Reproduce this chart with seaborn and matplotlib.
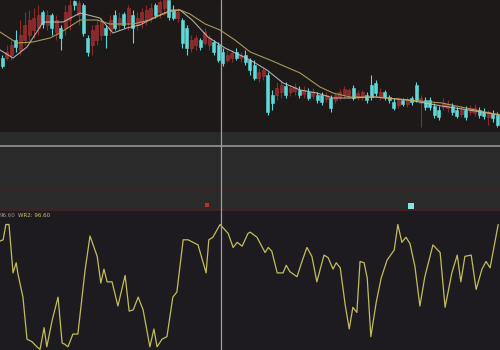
import matplotlib
matplotlib.use("Agg")
import matplotlib.pyplot as plt
import seaborn as sns
import pandas as pd
import numpy as np
from matplotlib.lines import Line2D

# ---------------- data ----------------
opens = [9.2, 9.2, 9.5, 11.0, 10.0, 11.0, 11.5, 12.0, 12.2, 13.8,
         12.5, 13.5, 11.8, 12.2, 12.2, 13.0, 14.9, 13.5, 14.5, 11.2,
         10.5, 11.0, 11.5, 12.2, 12.0, 13.5, 12.5, 13.6, 12.8, 13.5,
         12.5, 12.8, 13.0, 13.2, 14.5, 13.8, 14.2, 15.0, 14.0, 13.2,
         13.0, 12.2, 10.2, 10.5, 11.0, 10.7, 10.5, 10.8, 10.5, 9.8,
         9.0, 9.2, 9.8, 9.2, 9.5, 9.0, 8.5, 7.2, 7.4, 7.5,
         5.5, 5.5, 5.8, 6.4, 5.8, 5.9, 6.0, 5.6, 5.8, 5.4,
         5.5, 5.5, 5.1, 5.2, 5.0, 5.3, 5.6, 5.5, 6.2, 5.3,
         5.4, 5.5, 6.5, 6.7, 5.3, 5.8, 5.3, 4.8, 4.5, 5.0,
         4.6, 5.2, 6.5, 4.7, 5.0, 5.0, 4.4, 4.0, 4.3, 4.2,
         4.4, 4.0, 3.6, 4.0, 3.8, 3.7, 4.0, 3.8, 3.3, 3.6, 3.5]
closes = [8.4, 9.8, 10.5, 10.3, 11.5, 12.5, 13.0, 13.2, 13.5, 12.6,
          13.5, 12.2, 13.0, 11.2, 13.8, 14.5, 14.5, 14.7, 11.7, 9.8,
          12.0, 12.5, 12.8, 11.5, 13.0, 12.2, 13.2, 12.5, 14.2, 12.2,
          13.2, 13.8, 14.0, 14.2, 13.5, 14.8, 15.0, 13.3, 13.2, 13.8,
          10.7, 10.2, 11.0, 11.2, 10.3, 11.8, 11.2, 9.8, 9.0, 8.7,
          9.5, 9.7, 9.2, 9.5, 8.8, 8.0, 7.2, 7.8, 8.0, 3.8,
          4.7, 6.2, 6.5, 5.5, 6.2, 6.3, 5.5, 6.0, 5.2, 5.8,
          5.0, 4.8, 5.5, 4.2, 5.5, 5.8, 6.1, 6.0, 5.2, 5.7,
          5.8, 5.0, 5.3, 5.7, 5.8, 5.3, 5.0, 4.2, 5.0, 4.6,
          5.0, 4.8, 5.0, 5.2, 4.3, 4.3, 3.5, 3.3, 4.7, 4.6,
          3.8, 3.4, 4.0, 3.3, 4.2, 4.2, 3.5, 3.4, 3.8, 3.2, 2.5]
highs = [9.5, 10.5, 11.0, 12.0, 13.0, 13.8, 14.0, 14.2, 14.5, 14.0,
         14.0, 13.7, 13.5, 12.5, 14.5, 15.0, 15.0, 15.0, 14.7, 11.5,
         12.5, 13.0, 13.2, 12.5, 13.5, 14.0, 13.8, 13.8, 14.5, 14.0,
         13.8, 14.2, 14.5, 14.7, 14.7, 15.0, 15.0, 15.0, 14.5, 14.2,
         13.2, 12.5, 11.5, 11.5, 11.2, 12.2, 11.5, 11.0, 10.8, 10.2,
         10.0, 10.0, 10.2, 9.8, 10.0, 9.2, 9.0, 8.2, 8.2, 7.8,
         6.0, 6.8, 7.0, 6.8, 6.5, 6.7, 6.4, 6.4, 6.2, 6.2,
         5.8, 5.8, 5.8, 5.5, 5.7, 6.1, 6.4, 6.2, 6.5, 6.0,
         6.0, 5.8, 7.5, 7.0, 6.2, 6.0, 5.5, 5.2, 5.3, 5.2,
         5.3, 5.4, 6.8, 5.5, 5.3, 5.3, 4.7, 4.4, 5.2, 5.0,
         4.7, 4.3, 4.4, 4.4, 4.5, 4.6, 4.3, 4.2, 4.0, 4.0, 3.8]
lows = [8.2, 9.0, 9.0, 9.8, 9.5, 10.5, 11.0, 11.2, 11.5, 12.2,
        12.0, 11.5, 11.0, 10.0, 11.5, 12.0, 14.0, 12.5, 11.4, 9.4,
        9.5, 10.5, 11.0, 10.2, 11.5, 12.0, 12.0, 12.2, 12.0, 10.7,
        12.0, 12.2, 12.5, 12.8, 13.2, 13.2, 13.5, 13.0, 13.0, 12.8,
        10.2, 9.5, 9.8, 10.0, 10.0, 10.5, 10.0, 9.5, 8.8, 8.4,
        8.8, 8.8, 9.0, 8.8, 8.5, 7.5, 7.0, 6.8, 7.0, 3.5,
        4.0, 5.0, 5.2, 5.2, 5.4, 5.5, 5.2, 5.2, 5.0, 5.1,
        4.7, 4.5, 4.8, 3.8, 4.7, 5.0, 5.2, 5.2, 5.0, 5.0,
        5.0, 4.7, 5.0, 5.4, 5.0, 5.0, 4.7, 4.0, 4.2, 4.4,
        4.3, 4.5, 4.8, 2.3, 4.0, 4.0, 3.2, 3.0, 4.0, 3.8,
        3.5, 3.2, 3.3, 3.0, 3.5, 3.4, 3.2, 3.1, 2.5, 2.8, 2.3]

ma_fast_day = [-0.5, 2.4, 5.5, 9.1, 13.5, 17.3, 21.7, 24.6, 27.7, 30.6,
               34.4, 37.7, 39.5, 42.2, 45.7, 49.5, 55.1, 58.8, 62.4, 66.2,
               69.9, 73.5, 77.3, 82.8, 90.2, 97.7, 105.1, 110.6]
ma_fast_val = [10.0, 9.2, 10.3, 12.8, 12.8, 13.7, 13.2, 11.7, 12.2, 12.5,
               13.4, 14.0, 14.0, 13.0, 11.3, 10.2, 9.0, 8.0, 6.7, 6.0,
               5.7, 5.2, 5.2, 5.3, 5.0, 4.4, 3.9, 3.5]
ma_slow_day = [-0.5, 3.3, 6.8, 10.6, 12.8, 17.3, 21.1, 23.9, 29.1, 32.8,
               36.8, 39.5, 41.7, 45.1, 48.4, 51.7, 55.1, 59.5, 66.2, 70.6,
               73.5, 77.3, 82.8, 90.2, 97.7, 105.1, 110.6]
ma_slow_val = [11.8, 10.7, 10.8, 11.2, 11.7, 13.0, 13.0, 12.6, 12.6, 13.0,
               13.8, 14.0, 13.6, 12.6, 12.0, 11.0, 9.8, 9.0, 7.7, 6.3,
               5.7, 5.3, 5.3, 5.0, 4.7, 4.0, 3.5]

wr_day = [-0.5, 0.2, 0.8, 1.5, 2.4, 3.1, 3.5, 4.6, 5.5, 6.6,
          7.7, 8.4, 9.3, 9.9, 11.1, 12.4, 13.3, 13.9, 14.6, 15.7,
          16.8, 18.4, 19.5, 21.1, 21.9, 22.6, 23.3, 24.4, 25.7, 27.3,
          28.2, 29.1, 30.2, 31.3, 32.8, 33.7, 34.4, 35.5, 36.6, 37.9,
          38.8, 40.2, 41.3, 43.5, 45.3, 45.9, 46.8, 48.4, 50.2, 51.3,
          52.2, 53.3, 54.6, 55.1, 56.6, 58.4, 59.1, 59.9, 61.1, 62.4,
          63.1, 63.9, 65.5, 66.6, 67.7, 68.8, 69.9, 71.5, 72.4, 73.5,
          74.2, 75.1, 76.2, 77.1, 77.9, 78.8, 79.5, 80.4, 81.1, 81.9,
          83.1, 84.2, 85.5, 87.1, 87.9, 88.8, 89.7, 90.6, 91.7, 92.8,
          93.9, 95.7, 97.3, 98.4, 99.9, 101.1, 101.9, 102.8, 104.2, 105.3,
          106.6, 107.5, 108.4, 110.2]
wr_val = [85, 86, 98, 98, 60, 68, 59, 41, 8, 6,
          2, 0, 17, 2, 23, 41, 5, 4, 2, 12,
          12, 62, 89, 73, 52, 63, 53, 53, 34, 58,
          30, 31, 41, 31, 2, 16, 2, 8, 10, 41,
          45, 86, 86, 82, 60, 86, 88, 98, 91, 80,
          84, 81, 91, 92, 88, 76, 80, 77, 60, 60,
          66, 61, 57, 69, 80, 73, 53, 74, 72, 63,
          68, 64, 35, 16, 33, 29, 69, 68, 56, 10,
          37, 56, 70, 78, 98, 84, 88, 83, 65, 34,
          57, 82, 76, 33, 60, 74, 53, 73, 74, 47,
          63, 69, 64, 98]

signal_up_day = [45.5]
signal_down_day = [90.8]
crosshair_day = 48.6
label_left = "96.60"
label_wr = "WR2: 96.60"

# ---------------- style ----------------
sns.set_theme(style="dark")
plt.rcParams['font.family'] = ['DejaVu Sans']

UP = "#8a2a2a"
UP_EDGE = "#a83232"
DOWN = "#5fd8d8"
X_LIM = (-0.5, 110.6)

fig = plt.figure(figsize=(5, 3.5), dpi=100)
fig.patch.set_facecolor("#2a2a2a")

H = 350.0
def ax_box(top_px, bot_px):
    return [0, 1 - bot_px / H, 1, (bot_px - top_px) / H]

ax_p = fig.add_axes(ax_box(0, 132))
ax_m = fig.add_axes(ax_box(132, 211))
ax_w = fig.add_axes(ax_box(211, 350))

for ax, fc in ((ax_p, "#1d1919"), (ax_m, "#2a2a2a"), (ax_w, "#1d1b20")):
    ax.set_facecolor(fc)
    ax.set_xlim(*X_LIM)
    ax.set_xticks([]); ax.set_yticks([])
    ax.set_xlabel(""); ax.set_ylabel("")
    for s in ax.spines.values():
        s.set_visible(False)
    ax.grid(False)

# ---------------- candles ----------------
df = pd.DataFrame({"open": opens, "close": closes, "high": highs, "low": lows})
df["day"] = np.arange(len(df))
up = df["close"] >= df["open"]
for sub, col, ec in ((df[up], UP, UP_EDGE), (df[~up], DOWN, DOWN)):
    ax_p.vlines(sub["day"], sub["low"], sub["high"], color=col, lw=0.8, zorder=2)
    bottom = np.minimum(sub["open"], sub["close"])
    height = np.maximum(np.abs(sub["close"] - sub["open"]), 0.08)
    ax_p.bar(sub["day"], height, bottom=bottom, width=0.62, color=col,
             edgecolor=ec, linewidth=0.4, zorder=3)

ma_fast = pd.DataFrame({"day": ma_fast_day, "val": ma_fast_val})
ma_slow = pd.DataFrame({"day": ma_slow_day, "val": ma_slow_val})
sns.lineplot(data=ma_fast, x="day", y="val", ax=ax_p, color="#c9c4c4",
             lw=0.8, alpha=0.85, zorder=4, estimator=None)
sns.lineplot(data=ma_slow, x="day", y="val", ax=ax_p, color="#b8a65a",
             lw=0.8, alpha=0.9, zorder=4, estimator=None)
ax_p.set_ylim(1.8, 15.0)
ax_p.set_xlim(*X_LIM)
ax_p.set_xlabel(""); ax_p.set_ylabel("")
ax_p.set_yticks([]); ax_p.set_xticks([])

# ---------------- middle pane ----------------
ax_m.set_ylim(0, 79)
ax_m.axhline(65, color="#8e8e8e", lw=1.3)        # horizontal crosshair
ax_m.axhline(23, color="#3c2424", lw=0.8)
ax_m.axhline(1, color="#4a2020", lw=1.2)
ax_m.scatter(signal_up_day, [6], marker="s", s=9, color="#b83030",
             edgecolors="none", zorder=5)
ax_m.scatter(signal_down_day, [5], marker="s", s=20, color="#86e4e4",
             edgecolors="none", zorder=5)

# ---------------- WR pane ----------------
wr = pd.DataFrame({"day": wr_day, "wr": wr_val})
sns.lineplot(data=wr, x="day", y="wr", ax=ax_w, color="#c2bd5c", lw=0.9,
             estimator=None)
ax_w.set_ylim(-0.5, 108.6)
ax_w.set_xlim(*X_LIM)
ax_w.set_xlabel(""); ax_w.set_ylabel("")
ax_w.set_yticks([]); ax_w.set_xticks([])
ax_w.text(0.0, 0.985, label_left, transform=ax_w.transAxes, fontsize=4,
          color="#9a9a8a", va="top", ha="left")
ax_w.text(0.036, 0.985, label_wr, transform=ax_w.transAxes, fontsize=4,
          color="#c8c070", va="top", ha="left")

# vertical crosshair across all panes
for ax in (ax_p, ax_m, ax_w):
    ax.axvline(crosshair_day, color="#a0a0a0", lw=0.9, zorder=6)

fig.savefig("out.png", dpi=100, facecolor=fig.get_facecolor())
